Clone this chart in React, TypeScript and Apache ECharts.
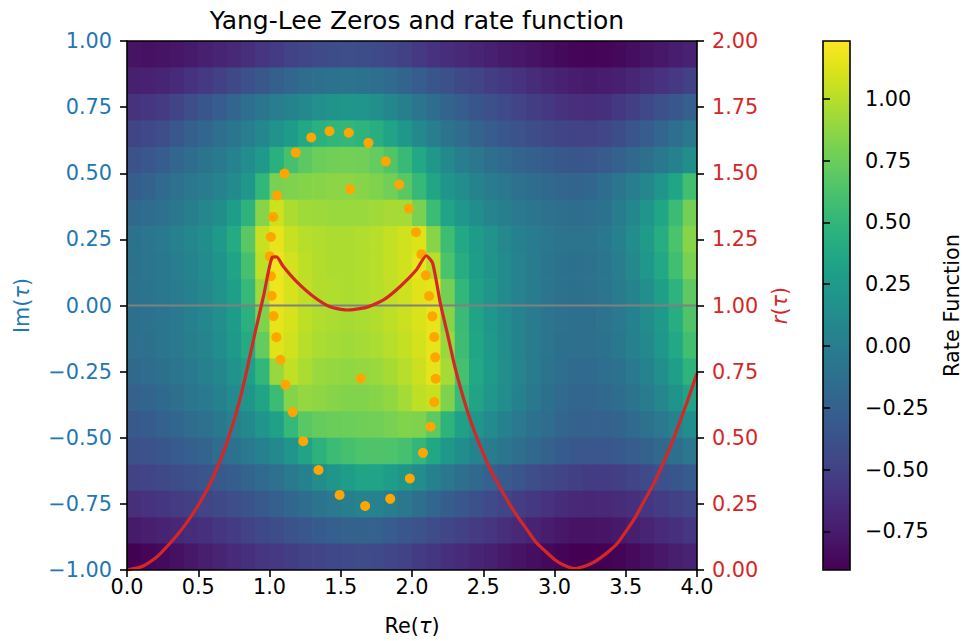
import React, { useEffect, useRef } from "react";
import * as echarts from "echarts";

const FONT = "DejaVu Sans";
const TITLE = "Yang-Lee Zeros and rate function";

// Heatmap cell centres (Re columns, Im rows from top to bottom)
const reCenters = [0.05, 0.15, 0.25, 0.35, 0.45, 0.55, 0.65, 0.75, 0.85, 0.95,
  1.05, 1.15, 1.25, 1.35, 1.45, 1.55, 1.65, 1.75, 1.85, 1.95,
  2.05, 2.15, 2.25, 2.35, 2.45, 2.55, 2.65, 2.75, 2.85, 2.95,
  3.05, 3.15, 3.25, 3.35, 3.45, 3.55, 3.65, 3.75, 3.85, 3.95];
const imCenters = [0.95, 0.85, 0.75, 0.65, 0.55, 0.45, 0.35, 0.25, 0.15, 0.05,
  -0.05, -0.15, -0.25, -0.35, -0.45, -0.55, -0.65, -0.75, -0.85, -0.95];

// Rate function values, one row per Im level (top to bottom)
const row095 = [-0.80,-0.81,-0.80,-0.78,-0.75,-0.72,-0.69,-0.66,-0.62,-0.58,-0.53,-0.49,-0.46,-0.43,-0.41,-0.40,-0.41,-0.43,-0.46,-0.50,-0.55,-0.60,-0.63,-0.66,-0.69,-0.72,-0.75,-0.77,-0.80,-0.83,-0.86,-0.88,-0.89,-0.88,-0.86,-0.83,-0.80,-0.77,-0.74,-0.71];
const row085 = [-0.72,-0.71,-0.69,-0.65,-0.60,-0.55,-0.50,-0.44,-0.38,-0.32,-0.26,-0.21,-0.16,-0.12,-0.10,-0.09,-0.10,-0.13,-0.17,-0.22,-0.28,-0.34,-0.39,-0.44,-0.48,-0.52,-0.56,-0.60,-0.64,-0.68,-0.71,-0.74,-0.75,-0.74,-0.72,-0.68,-0.64,-0.60,-0.55,-0.50];
const row075 = [-0.60,-0.58,-0.54,-0.47,-0.40,-0.34,-0.28,-0.21,-0.14,-0.07,0.00,0.05,0.10,0.15,0.19,0.21,0.20,0.15,0.08,0.01,-0.07,-0.15,-0.22,-0.28,-0.34,-0.38,-0.43,-0.47,-0.52,-0.56,-0.60,-0.62,-0.63,-0.61,-0.56,-0.51,-0.45,-0.39,-0.33,-0.26];
const row065 = [-0.48,-0.45,-0.40,-0.33,-0.26,-0.20,-0.14,-0.07,0.00,0.08,0.17,0.27,0.38,0.45,0.49,0.50,0.48,0.43,0.33,0.22,0.10,0.00,-0.09,-0.16,-0.22,-0.28,-0.33,-0.37,-0.41,-0.44,-0.47,-0.49,-0.49,-0.46,-0.41,-0.35,-0.28,-0.21,-0.14,-0.06];
const row055 = [-0.37,-0.33,-0.28,-0.21,-0.15,-0.09,-0.03,0.04,0.12,0.25,0.44,0.60,0.69,0.75,0.77,0.78,0.77,0.72,0.65,0.53,0.38,0.22,0.10,0.00,-0.06,-0.12,-0.17,-0.22,-0.26,-0.29,-0.32,-0.34,-0.33,-0.30,-0.25,-0.19,-0.12,-0.05,0.03,0.14];
const row045 = [-0.27,-0.23,-0.17,-0.11,-0.06,-0.01,0.04,0.11,0.22,0.50,0.80,0.82,0.84,0.85,0.86,0.86,0.85,0.82,0.77,0.68,0.52,0.35,0.20,0.12,0.05,-0.01,-0.06,-0.11,-0.15,-0.18,-0.21,-0.22,-0.20,-0.15,-0.08,0.00,0.08,0.20,0.36,0.58];
const row035 = [-0.19,-0.16,-0.11,-0.05,0.01,0.07,0.14,0.28,0.48,0.85,1.07,0.97,0.93,0.92,0.91,0.91,0.91,0.93,0.95,0.94,0.80,0.55,0.33,0.22,0.13,0.06,0.01,-0.04,-0.08,-0.11,-0.13,-0.15,-0.14,-0.10,-0.02,0.08,0.20,0.36,0.55,0.78];
const row025 = [-0.10,-0.07,-0.03,0.02,0.08,0.14,0.24,0.40,0.68,1.05,1.16,1.05,1.00,0.98,0.97,0.97,0.98,1.00,1.04,1.08,1.12,0.85,0.56,0.38,0.26,0.17,0.09,0.03,-0.02,-0.06,-0.09,-0.10,-0.09,-0.05,0.02,0.12,0.26,0.42,0.62,0.85];
const row015 = [-0.10,-0.08,-0.05,0.00,0.05,0.11,0.19,0.33,0.60,1.02,1.18,1.09,1.02,0.99,0.97,0.97,0.98,1.00,1.04,1.08,1.16,1.00,0.62,0.42,0.28,0.19,0.11,0.04,-0.02,-0.07,-0.10,-0.12,-0.11,-0.07,0.00,0.09,0.22,0.38,0.58,0.80];
const row005 = [-0.11,-0.09,-0.06,-0.02,0.03,0.09,0.17,0.30,0.52,0.92,1.18,1.10,1.03,0.99,0.98,0.97,0.98,1.00,1.03,1.07,1.13,1.15,0.78,0.50,0.32,0.21,0.11,0.04,-0.02,-0.07,-0.11,-0.12,-0.11,-0.08,-0.02,0.05,0.15,0.30,0.48,0.70];
const rowM005 = [-0.12,-0.10,-0.07,-0.03,0.02,0.08,0.15,0.27,0.45,0.82,1.16,1.10,1.02,0.98,0.96,0.95,0.96,0.99,1.02,1.06,1.11,1.16,0.85,0.54,0.34,0.22,0.12,0.05,-0.02,-0.07,-0.11,-0.13,-0.12,-0.09,-0.04,0.03,0.12,0.25,0.42,0.64];
const rowM015 = [-0.14,-0.12,-0.08,-0.04,0.01,0.06,0.13,0.24,0.40,0.72,1.13,1.08,1.00,0.96,0.94,0.93,0.94,0.96,1.00,1.04,1.09,1.16,0.90,0.56,0.36,0.24,0.13,0.05,-0.02,-0.08,-0.12,-0.14,-0.13,-0.10,-0.05,0.02,0.10,0.22,0.38,0.58];
const rowM025 = [-0.18,-0.16,-0.12,-0.08,-0.03,0.02,0.08,0.17,0.29,0.50,0.90,1.03,0.96,0.91,0.89,0.88,0.89,0.91,0.95,1.00,1.06,1.15,0.94,0.60,0.38,0.26,0.15,0.06,-0.02,-0.09,-0.14,-0.17,-0.17,-0.14,-0.10,-0.03,0.05,0.15,0.30,0.48];
const rowM035 = [-0.24,-0.22,-0.18,-0.13,-0.08,-0.03,0.03,0.11,0.21,0.34,0.55,0.84,0.89,0.87,0.85,0.83,0.83,0.85,0.88,0.94,1.02,1.05,0.82,0.53,0.34,0.22,0.12,0.03,-0.05,-0.12,-0.17,-0.21,-0.21,-0.19,-0.15,-0.09,-0.02,0.07,0.19,0.33];
const rowM045 = [-0.31,-0.29,-0.25,-0.20,-0.16,-0.11,-0.05,0.02,0.10,0.20,0.32,0.52,0.68,0.73,0.74,0.75,0.76,0.77,0.80,0.83,0.82,0.70,0.48,0.32,0.20,0.11,0.03,-0.04,-0.10,-0.16,-0.21,-0.24,-0.25,-0.25,-0.22,-0.17,-0.11,-0.04,0.04,0.14];
const rowM055 = [-0.39,-0.37,-0.34,-0.30,-0.26,-0.22,-0.16,-0.10,-0.04,0.03,0.10,0.20,0.34,0.47,0.55,0.60,0.63,0.64,0.63,0.60,0.50,0.37,0.23,0.13,0.05,-0.01,-0.07,-0.13,-0.19,-0.24,-0.29,-0.32,-0.33,-0.33,-0.31,-0.28,-0.23,-0.18,-0.12,-0.06];
const rowM065 = [-0.49,-0.47,-0.44,-0.41,-0.38,-0.35,-0.31,-0.27,-0.22,-0.17,-0.11,-0.04,0.03,0.12,0.21,0.28,0.33,0.33,0.28,0.21,0.12,0.03,-0.06,-0.13,-0.19,-0.25,-0.30,-0.35,-0.40,-0.44,-0.48,-0.51,-0.53,-0.53,-0.51,-0.47,-0.43,-0.38,-0.34,-0.29];
const rowM075 = [-0.62,-0.60,-0.57,-0.54,-0.51,-0.48,-0.44,-0.40,-0.36,-0.31,-0.26,-0.20,-0.15,-0.09,-0.04,0.01,0.04,0.04,0.00,-0.06,-0.13,-0.20,-0.27,-0.33,-0.38,-0.43,-0.47,-0.52,-0.56,-0.60,-0.64,-0.66,-0.67,-0.66,-0.64,-0.61,-0.57,-0.53,-0.50,-0.46];
const rowM085 = [-0.75,-0.73,-0.70,-0.67,-0.64,-0.61,-0.57,-0.53,-0.49,-0.45,-0.41,-0.37,-0.33,-0.29,-0.26,-0.24,-0.23,-0.25,-0.28,-0.33,-0.37,-0.42,-0.46,-0.50,-0.54,-0.58,-0.62,-0.66,-0.70,-0.74,-0.77,-0.80,-0.80,-0.79,-0.76,-0.73,-0.69,-0.65,-0.61,-0.57];
const rowM095 = [-0.91,-0.88,-0.85,-0.81,-0.77,-0.73,-0.69,-0.65,-0.61,-0.58,-0.55,-0.52,-0.49,-0.47,-0.45,-0.43,-0.42,-0.43,-0.46,-0.49,-0.53,-0.57,-0.61,-0.65,-0.69,-0.72,-0.76,-0.80,-0.83,-0.86,-0.89,-0.92,-0.93,-0.92,-0.89,-0.85,-0.81,-0.77,-0.73,-0.70];
const rateRows = [row095, row085, row075, row065, row055, row045, row035, row025, row015, row005,
  rowM005, rowM015, rowM025, rowM035, rowM045, rowM055, rowM065, rowM075, rowM085, rowM095];

// Yang-Lee zeros
const zerosRe = [1.421, 1.556, 1.293, 1.694, 1.184, 1.816, 1.105, 1.911, 1.566, 1.054, 1.977, 1.026, 2.028, 1.010, 1.003, 2.066, 1.010, 2.097, 1.015, 2.120, 1.028, 2.143, 1.048, 2.156, 1.077, 2.163, 2.166, 1.640, 1.112, 2.156, 1.163, 2.130, 1.237, 2.077, 1.344, 1.985, 1.492, 1.847, 1.671];
const zerosIm = [0.659, 0.653, 0.635, 0.615, 0.578, 0.545, 0.499, 0.457, 0.440, 0.416, 0.366, 0.335, 0.277, 0.259, 0.186, 0.194, 0.111, 0.114, 0.037, 0.036, -0.040, -0.041, -0.120, -0.119, -0.205, -0.196, -0.277, -0.276, -0.300, -0.365, -0.403, -0.458, -0.513, -0.557, -0.622, -0.654, -0.716, -0.731, -0.758];

// Rate function on the real axis r(tau)
const rateRe = [0, 0.10, 0.20, 0.30, 0.40, 0.50, 0.60, 0.70, 0.80, 0.90, 0.96, 1.02, 1.05, 1.097, 1.19, 1.31, 1.425, 1.54, 1.68, 1.80, 1.915, 2.03, 2.10, 2.145, 2.20, 2.25, 2.30, 2.35, 2.42, 2.50, 2.55, 2.62, 2.68, 2.75, 2.81, 2.87, 2.93, 3.00, 3.06, 3.14, 3.20, 3.26, 3.32, 3.38, 3.44, 3.50, 3.57, 3.63, 3.70, 3.76, 3.83, 3.90, 3.95, 4.00];
const rateVal = [0, 0.012, 0.045, 0.10, 0.165, 0.245, 0.345, 0.48, 0.66, 0.90, 1.04, 1.183, 1.184, 1.147, 1.09, 1.033, 0.995, 0.983, 0.993, 1.021, 1.071, 1.134, 1.188, 1.16, 1.005, 0.89, 0.77, 0.67, 0.55, 0.44, 0.38, 0.31, 0.253, 0.195, 0.15, 0.105, 0.074, 0.04, 0.02, 0.005, 0.012, 0.025, 0.045, 0.07, 0.10, 0.145, 0.202, 0.262, 0.33, 0.40, 0.49, 0.59, 0.665, 0.744];

const axhlineIm = 0;
const cbMin = -0.906;
const cbMax = 1.234;
const cbTicks = [-0.75, -0.5, -0.25, 0, 0.25, 0.5, 0.75, 1.0];

const viridis = ["#440154", "#471365", "#482475", "#463480", "#414487", "#3b528b", "#355f8d", "#2f6c8e", "#2a788e", "#25848e", "#21918c", "#1e9c89", "#22a884", "#2fb47c", "#44bf70", "#5ec962", "#7ad151", "#9bd93c", "#bddf26", "#dfe318", "#fde725"];

const HALF_W = 0.05;
const HALF_H = 0.05;

function fmt2(v: number) {
  if (Math.abs(v) < 1e-9) return "0.00";
  return (v < 0 ? "\u2212" : "") + Math.abs(v).toFixed(2);
}

export default function App() {
  const ref = useRef<HTMLDivElement>(null);
  useEffect(() => {
    if (!ref.current) return;
    const chart = echarts.init(ref.current, undefined, { renderer: "svg" });
    const cells: number[][] = [];
    rateRows.forEach((row, r) => row.forEach((v, c) => cells.push([reCenters[c], imCenters[r], v])));
    const zeros = zerosRe.map((x, i) => [x, zerosIm[i]]);
    const rate = rateRe.map((x, i) => [x, rateVal[i]]);
    const black = { color: "#000", width: 1.6 };
    const tickStyle = { show: true, length: 7, lineStyle: { color: "#000", width: 1.6 } };
    const lbl = (color: string) => ({ fontFamily: FONT, fontSize: 20.8, color });
    const rich = (color: string) => ({ t: { fontFamily: FONT, fontSize: 20.8, color, fontStyle: "italic" } });
    const option: any = {
      animation: false,
      backgroundColor: "#ffffff",
      title: {
        text: TITLE, left: 412, top: 3, textAlign: "center",
        textStyle: { fontFamily: FONT, fontSize: 25, fontWeight: "normal", color: "#000" },
      },
      grid: [
        { left: 127, top: 41, width: 570, height: 529 },
        { left: 823, top: 41, width: 27, height: 529 },
      ],
      xAxis: [
        {
          type: "value", gridIndex: 0, min: 0, max: 4, interval: 0.5, position: "bottom", z: 10,
          axisLine: { show: true, onZero: false, lineStyle: black },
          axisTick: tickStyle,
          axisLabel: { ...lbl("#000"), margin: 6, formatter: (v: number) => v.toFixed(1) },
          splitLine: { show: false },
          name: "Re({t|τ})", nameLocation: "middle", nameGap: 45,
          nameTextStyle: { ...lbl("#000"), rich: rich("#000") },
        },
        {
          type: "value", gridIndex: 0, min: 0, max: 4, position: "top", z: 10,
          axisLine: { show: true, onZero: false, lineStyle: black },
          axisTick: { show: false }, axisLabel: { show: false }, splitLine: { show: false },
        },
        { type: "value", gridIndex: 1, min: 0, max: 1, show: false },
      ],
      yAxis: [
        {
          type: "value", gridIndex: 0, min: -1, max: 1, interval: 0.25, position: "left", z: 10,
          axisLine: { show: true, onZero: false, lineStyle: black },
          axisTick: tickStyle,
          axisLabel: { ...lbl("#1f77b4"), margin: 15, formatter: fmt2 },
          splitLine: { show: false },
          name: "Im({t|τ})", nameLocation: "middle", nameGap: 95, nameRotate: 90,
          nameTextStyle: { ...lbl("#1f77b4"), rich: rich("#1f77b4") },
        },
        {
          type: "value", gridIndex: 0, min: 0, max: 2, interval: 0.25, position: "right", z: 10,
          axisLine: { show: true, onZero: false, lineStyle: black },
          axisTick: tickStyle,
          axisLabel: { ...lbl("#d62728"), margin: 15, formatter: fmt2 },
          splitLine: { show: false },
          name: "{t|r}({t|τ})", nameLocation: "middle", nameGap: 69, nameRotate: 90,
          nameTextStyle: { ...lbl("#d62728"), rich: rich("#d62728") },
        },
        {
          type: "value", gridIndex: 1, min: cbMin, max: cbMax, position: "right", z: 10,
          axisLine: { show: false },
          axisTick: { ...tickStyle, customValues: cbTicks },
          axisLabel: { ...lbl("#000"), margin: 15, formatter: fmt2, customValues: cbTicks },
          splitLine: { show: false },
          name: "Rate Function", nameLocation: "middle", nameGap: 91, nameRotate: 90,
          nameTextStyle: lbl("#000"),
        },
      ],
      visualMap: {
        type: "continuous", min: cbMin, max: cbMax, seriesIndex: 0, dimension: 2,
        calculable: false, orient: "vertical", left: 823, top: 41, itemWidth: 27, itemHeight: 529,
        padding: 0, inRange: { color: viridis }, textStyle: { color: "transparent" }, text: ["", ""],
        hoverLink: false,
      },
      series: [
        {
          type: "custom", xAxisIndex: 0, yAxisIndex: 0, data: cells, z: 1, clip: true, silent: true,
          encode: { x: 0, y: 1 },
          renderItem: (params: any, api: any) => {
            const re = api.value(0);
            const im = api.value(1);
            const p0 = api.coord([re - HALF_W, im + HALF_H]);
            const p1 = api.coord([re + HALF_W, im - HALF_H]);
            return {
              type: "rect",
              shape: { x: p0[0], y: p0[1], width: p1[0] - p0[0] + 0.7, height: p1[1] - p0[1] + 0.7 },
              style: { fill: api.visual("color") },
            };
          },
        },
        {
          type: "line", xAxisIndex: 0, yAxisIndex: 0, data: [[0, axhlineIm], [4, axhlineIm]], z: 3,
          symbol: "none", silent: true, lineStyle: { color: "#808080", width: 2 },
        },
        {
          type: "scatter", xAxisIndex: 0, yAxisIndex: 0, data: zeros, z: 4, silent: true,
          symbolSize: 10, itemStyle: { color: "#ffa500", opacity: 1 },
        },
        {
          type: "line", xAxisIndex: 0, yAxisIndex: 1, data: rate, z: 5, silent: true,
          symbol: "none", smooth: 0.2,
          lineStyle: { color: "#d62728", width: 3.2, join: "miter" },
        },
      ],
      graphic: [
        {
          type: "rect", z: 100, silent: true,
          shape: { x: 823, y: 41, width: 27, height: 529 },
          style: { fill: "none", stroke: "#000", lineWidth: 1.6 },
        },
      ],
    };
    chart.setOption(option);
    return () => chart.dispose();
  }, []);
  return (
    <div
      ref={ref}
      style={{ position: "absolute", left: 0, top: 0, width: 963, height: 641, background: "#fff" }}
    />
  );
}
